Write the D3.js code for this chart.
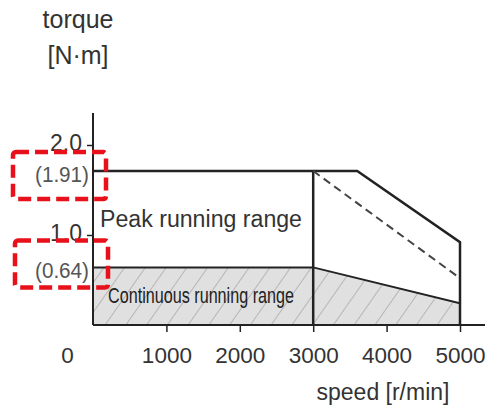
<!DOCTYPE html>
<html lang="en">
<head>
  <meta charset="UTF-8">
  <title>Speed-torque characteristics</title>
  <script src="https://d3js.org/d3.v7.min.js"></script>
  <style>
    body {
      margin: 0;
      background: #ffffff;
    }
    svg {
      display: block;
      font-family: 'Liberation Sans', Arial, sans-serif;
    }
  </style>
</head>
<body>
<svg id="chart" width="488" height="411"></svg>
<script>
  // valeurs
  const xTicks = [0, 1000, 2000, 3000, 4000, 5000];
  const yTicks = [1.0, 2.0];
  const ratedSpeed = 3000;

  const peakSpeed  = [0, 3600, 5000, 5000];
  const peakTorque = [1.91, 1.91, 0.92, 0];

  const contSpeed  = [0, 0, 3000, 5000, 5000];
  const contTorque = [0, 0.64, 0.64, 0.24, 0];

  const dashedSpeed  = [3000, 5000];
  const dashedTorque = [1.91, 0.52];

  const markedValues = [1.91, 0.64];
  const markedLabels = ["(1.91)", "(0.64)"];

  const svg = d3.select("#chart");

  const x = d3.scaleLinear().domain([0, 5000]).range([93, 460]);
  // schéma : l'axe n'est pas à l'échelle au-dessus de 1.0
  const y = d3.scaleLinear().domain([0, 1.0, 1.91, 2.0]).range([325, 235, 171, 145]);

  const ink = "#222";
  const txt = "#333";

  const defs = svg.append("defs");
  const pat = defs.append("pattern")
    .attr("id", "hatch")
    .attr("patternUnits", "userSpaceOnUse")
    .attr("width", 17)
    .attr("height", 16)
    .attr("patternTransform", "rotate(35)");
  pat.append("rect").attr("width", 17).attr("height", 16).attr("fill", "#e0e0e0");
  pat.append("line")
    .attr("x1", 0).attr("y1", 0).attr("x2", 0).attr("y2", 16)
    .attr("stroke", "#939393").attr("stroke-width", 1.1);

  const line = d3.line().x(d => x(d[0])).y(d => y(d[1]));

  // zone continue hachurée
  const contPts = d3.zip(contSpeed, contTorque);
  svg.append("path")
    .attr("d", line(contPts) + "Z")
    .attr("fill", "url(#hatch)");
  svg.append("path")
    .attr("d", line(contPts.slice(1)))
    .attr("fill", "none")
    .attr("stroke", ink)
    .attr("stroke-width", 2);

  // zone crête
  svg.append("path")
    .attr("d", line(d3.zip(peakSpeed, peakTorque)))
    .attr("fill", "none")
    .attr("stroke", ink)
    .attr("stroke-width", 2.5);

  svg.append("line")
    .attr("x1", x(ratedSpeed)).attr("x2", x(ratedSpeed))
    .attr("y1", y(peakTorque[0])).attr("y2", y(0))
    .attr("stroke", ink)
    .attr("stroke-width", 2.5);

  svg.append("path")
    .attr("d", line(d3.zip(dashedSpeed, dashedTorque)))
    .attr("fill", "none")
    .attr("stroke", "#444")
    .attr("stroke-width", 2)
    .attr("stroke-dasharray", "8,5");

  // axes
  svg.append("line")
    .attr("x1", x(0)).attr("x2", x(5000) + 25)
    .attr("y1", y(0)).attr("y2", y(0))
    .attr("stroke", ink).attr("stroke-width", 2);
  svg.append("line")
    .attr("x1", x(0)).attr("x2", x(0))
    .attr("y1", y(2.0) - 32).attr("y2", y(0))
    .attr("stroke", ink).attr("stroke-width", 2);

  const xAxis = svg.append("g")
    .attr("transform", `translate(0,${y(0)})`)
    .call(d3.axisBottom(x).tickValues(xTicks).tickSize(7).tickSizeOuter(0).tickFormat(d3.format("d")));
  xAxis.select(".domain").remove();
  xAxis.selectAll(".tick line").attr("stroke", ink).attr("stroke-width", 1.5)
    .filter(d => d === 0).remove();
  xAxis.selectAll(".tick text")
    .attr("y", 0).attr("dy", 38)
    .attr("fill", txt)
    .style("font-size", "22.5px")
    .style("font-family", "'Liberation Sans', Arial, sans-serif")
    .filter(d => d === 0).attr("x", -26);

  const yAxis = svg.append("g")
    .attr("transform", `translate(${x(0)},0)`)
    .call(d3.axisLeft(y).tickValues(yTicks).tickSize(6).tickSizeOuter(0).tickFormat(d3.format(".1f")));
  yAxis.select(".domain").remove();
  yAxis.selectAll(".tick line").attr("stroke", ink).attr("stroke-width", 1.5);
  yAxis.selectAll(".tick text")
    .attr("x", -11).attr("dy", 5)
    .attr("fill", txt)
    .style("font-size", "23px")
    .style("font-family", "'Liberation Sans', Arial, sans-serif");

  // valeurs encadrées
  markedValues.forEach((v, i) => {
    svg.append("text")
      .attr("x", x(0) - 4)
      .attr("y", y(v) + 11)
      .attr("text-anchor", "end")
      .attr("fill", "#555")
      .style("font-size", "22px")
      .attr("textLength", 54)
      .attr("lengthAdjust", "spacingAndGlyphs")
      .text(markedLabels[i]);
    svg.append("rect")
      .attr("x", x(0) - 80 + i * 2)
      .attr("y", y(v) - 19 + (i === 1 ? -8 : 0))
      .attr("width", 93)
      .attr("height", 47)
      .attr("rx", 3)
      .attr("fill", "none")
      .attr("stroke", "#e8101a")
      .attr("stroke-width", 4.5)
      .attr("stroke-dasharray", "13,6");
  });

  // libellés
  svg.append("text")
    .attr("x", x(0) + 7).attr("y", 227)
    .attr("fill", txt)
    .style("font-size", "23px")
    .attr("textLength", 202)
    .attr("lengthAdjust", "spacingAndGlyphs")
    .text("Peak running range");

  svg.append("text")
    .attr("x", x(0) + 15).attr("y", 303)
    .attr("fill", "#222")
    .attr("textLength", 186)
    .attr("lengthAdjust", "spacingAndGlyphs")
    .style("font-size", "22px")
    .text("Continuous running range");

  svg.append("text")
    .attr("x", 78).attr("y", 28)
    .attr("text-anchor", "middle")
    .attr("fill", txt)
    .style("font-size", "25px")
    .text("torque");
  svg.append("text")
    .attr("x", 78).attr("y", 64)
    .attr("text-anchor", "middle")
    .attr("fill", txt)
    .style("font-size", "25px")
    .text("[N·m]");

  svg.append("text")
    .attr("x", 383).attr("y", 400)
    .attr("text-anchor", "middle")
    .attr("fill", txt)
    .style("font-size", "23px")
    .text("speed [r/min]");
</script>
</body>
</html>
